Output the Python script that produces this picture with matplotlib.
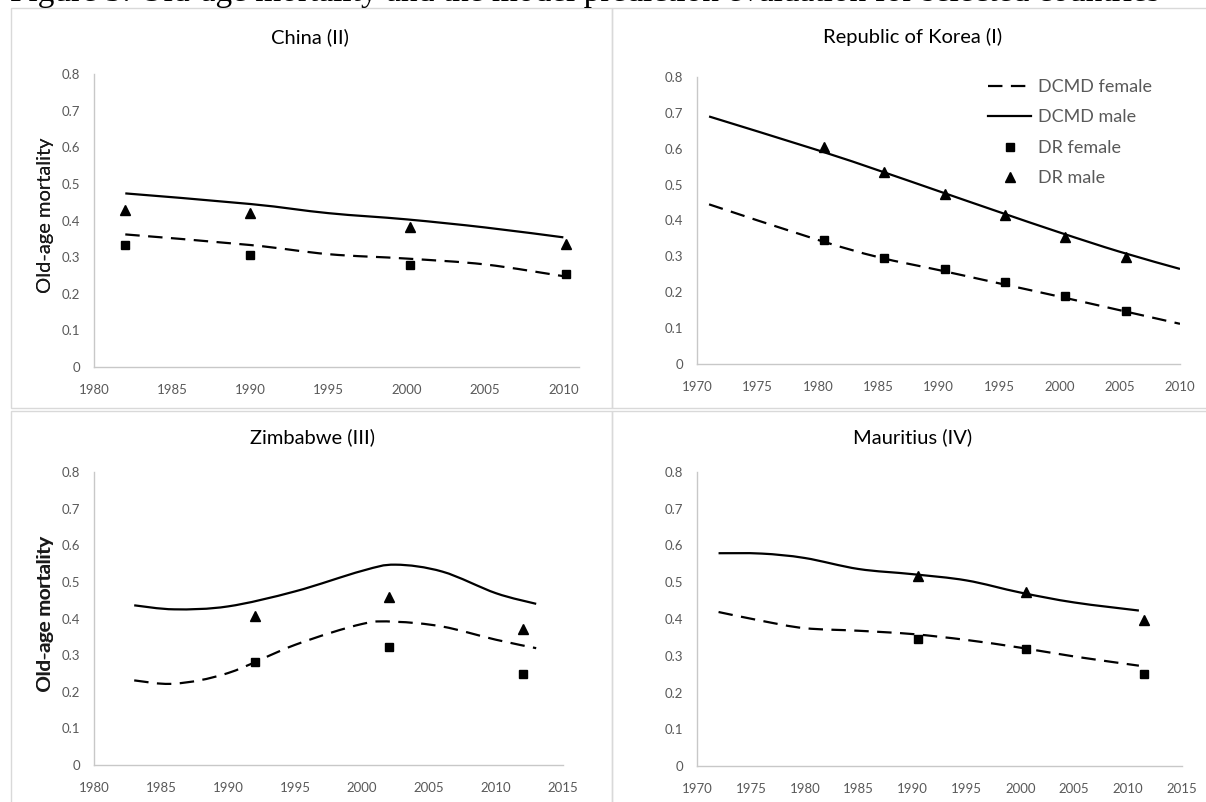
import matplotlib
matplotlib.use("Agg")
import matplotlib.pyplot as plt
import numpy as np
from matplotlib.path import Path
from matplotlib.patches import PathPatch, Rectangle
from matplotlib.lines import Line2D

plt.rcParams['font.family'] = ['Lato', 'DejaVu Sans']

# ---------------- data ----------------
titles = ["China (II)", "Republic of Korea (I)", "Zimbabwe (III)", "Mauritius (IV)"]
ylabel = "Old-age mortality"
legend_labels = ["DCMD female", "DCMD male", "DR female", "DR male"]
caption = "Figure 5: Old-age mortality and the model prediction evaluation for selected countries"

# China
china_line_years = [1982, 1990, 1995, 2000, 2005, 2010]
china_dcmd_male = [0.474, 0.445, 0.420, 0.403, 0.381, 0.354]
china_dcmd_female = [0.362, 0.333, 0.308, 0.296, 0.280, 0.248]
china_dr_years = [1982, 1990, 2000.2, 2010.2]
china_dr_male = [0.429, 0.420, 0.381, 0.335]
china_dr_female = [0.333, 0.306, 0.278, 0.255]

# Republic of Korea
korea_line_years = [1971, 1980, 1985, 1990, 1995, 2000, 2005, 2010]
korea_dcmd_male = [0.690, 0.596, 0.540, 0.482, 0.424, 0.367, 0.313, 0.265]
korea_dcmd_female = [0.445, 0.346, 0.298, 0.262, 0.225, 0.188, 0.150, 0.112]
korea_dr_years = [1980.5, 1985.5, 1990.5, 1995.5, 2000.5, 2005.5]
korea_dr_male = [0.605, 0.536, 0.473, 0.415, 0.355, 0.299]
korea_dr_female = [0.346, 0.295, 0.264, 0.228, 0.190, 0.148]

# Zimbabwe
zim_line_years = [1983, 1986, 1990, 1995, 2000, 2002.5, 2006, 2010, 2013]
zim_dcmd_male = [0.436, 0.425, 0.433, 0.474, 0.530, 0.547, 0.528, 0.469, 0.440]
zim_dcmd_female = [0.231, 0.222, 0.251, 0.328, 0.385, 0.391, 0.378, 0.342, 0.319]
zim_dr_years = [1992, 2002, 2012]
zim_dr_male = [0.408, 0.460, 0.372]
zim_dr_female = [0.282, 0.321, 0.248]

# Mauritius
mau_line_years = [1972, 1976, 1980, 1985, 1990, 1995, 2000, 2005, 2011]
mau_dcmd_male = [0.579, 0.578, 0.566, 0.536, 0.522, 0.505, 0.472, 0.445, 0.423]
mau_dcmd_female = [0.419, 0.395, 0.375, 0.368, 0.359, 0.343, 0.322, 0.298, 0.273]
mau_dr_years = [1990.5, 2000.5, 2011.5]
mau_dr_male = [0.516, 0.473, 0.398]
mau_dr_female = [0.345, 0.319, 0.250]

xlims = [(1980, 2011), (1970, 2010), (1980, 2015), (1970, 2015)]

# ---------------- layout (pixels) ----------------
W, H = 1206, 802
fig = plt.figure(figsize=(W / 100, H / 100), dpi=100)

def fx(px):
    return px / W

def fy(py):
    return 1 - py / H

# axes boxes: left, right, bottom(y px of 0), top(y px of 0.8)
boxes = [(94, 579, 367, 74), (697, 1180, 364, 77), (94, 563, 765, 472), (697, 1182, 766, 472)]
title_pos = [(310, 37), (913, 37), (313, 437), (913, 437)]

# panel borders
for (x0, y0, x1, y1) in [(11, 8, 612, 408), (612, 8, 1210, 408), (11, 411, 612, 806), (612, 411, 1210, 806)]:
    fig.patches.append(Rectangle((fx(x0), fy(y1)), fx(x1 - x0), (y1 - y0) / H,
                                 transform=fig.transFigure, fill=False,
                                 edgecolor='#d9d9d9', lw=1.0))

# caption, mostly clipped at the top edge (only descenders show)
fig.text(fx(10), fy(7.5), caption, family=['Liberation Serif'], fontsize=24,
         ha='left', va='bottom', color='black')


def smooth_path(xs, ys):
    p = np.column_stack([xs, ys]).astype(float)
    n = len(p)
    verts = [p[0]]
    codes = [Path.MOVETO]
    for i in range(n - 1):
        p0 = p[i - 1] if i > 0 else p[i]
        p1 = p[i]
        p2 = p[i + 1]
        p3 = p[i + 2] if i + 2 < n else p[i + 1]
        c1 = p1 + (p2 - p0) / 6.0
        c2 = p2 - (p3 - p1) / 6.0
        verts += [c1, c2, p2]
        codes += [Path.CURVE4] * 3
    return Path(verts, codes)

DASH = (0, (6.5, 3.8))
LW = 1.6

series = [
    (china_line_years, china_dcmd_male, china_dcmd_female, china_dr_years, china_dr_male, china_dr_female),
    (korea_line_years, korea_dcmd_male, korea_dcmd_female, korea_dr_years, korea_dr_male, korea_dr_female),
    (zim_line_years, zim_dcmd_male, zim_dcmd_female, zim_dr_years, zim_dr_male, zim_dr_female),
    (mau_line_years, mau_dcmd_male, mau_dcmd_female, mau_dr_years, mau_dr_male, mau_dr_female),
]

for k in range(4):
    l, r, b, t = boxes[k]
    ax = fig.add_axes([fx(l), fy(b), fx(r - l), (b - t) / H])
    ly, m_line, f_line, dy, m_dr, f_dr = series[k]
    ax.add_patch(PathPatch(smooth_path(ly, f_line), fill=False, edgecolor='black',
                           lw=LW, linestyle=DASH))
    ax.add_patch(PathPatch(smooth_path(ly, m_line), fill=False, edgecolor='black', lw=LW))
    ax.plot(dy, f_dr, linestyle='none', marker='s', color='black', markersize=6)
    ax.plot(dy, m_dr, linestyle='none', marker='^', color='black', markersize=7)

    ax.set_xlim(*xlims[k])
    ax.set_ylim(0, 0.8)
    ax.set_xticks(np.arange(xlims[k][0], xlims[k][1] + 0.1, 5))
    ax.set_yticks(np.arange(0, 0.81, 0.1))
    ax.set_yticklabels(['0'] + ['%.1f' % v for v in np.arange(0.1, 0.81, 0.1)])
    for s in ['top', 'right']:
        ax.spines[s].set_visible(False)
    for s in ['left', 'bottom']:
        ax.spines[s].set_color('#c8c8c8')
        ax.spines[s].set_linewidth(1.0)
    ax.tick_params(axis='both', length=0, labelsize=9.5, labelcolor='#595959')
    ax.tick_params(axis='y', pad=10)
    ax.tick_params(axis='x', pad=12)
    ax.patch.set_alpha(0)

    ax.set_ylabel(ylabel, fontsize=14.5, color='#1a1a1a')
    ax.yaxis.set_label_coords(fx(54), fy((t + b) / 2 - 5), transform=fig.transFigure)

    tx, ty = title_pos[k]
    fig.text(fx(tx), fy(ty), titles[k], fontsize=14.5, color='black', ha='center', va='center')

    if k == 1:
        handles = [
            Line2D([], [], color='black', lw=LW, linestyle=DASH),
            Line2D([], [], color='black', lw=LW),
            Line2D([], [], color='black', linestyle='none', marker='s', markersize=6),
            Line2D([], [], color='black', linestyle='none', marker='^', markersize=7),
        ]
        ax.legend(handles, legend_labels, loc='upper left',
                  bbox_to_anchor=(fx(988), fy(79)), bbox_transform=fig.transFigure,
                  frameon=False, fontsize=13, labelcolor='#595959',
                  handlelength=2.4, handletextpad=0.35, labelspacing=0.8,
                  borderpad=0, borderaxespad=0)

fig.savefig("out.png", dpi=100)
